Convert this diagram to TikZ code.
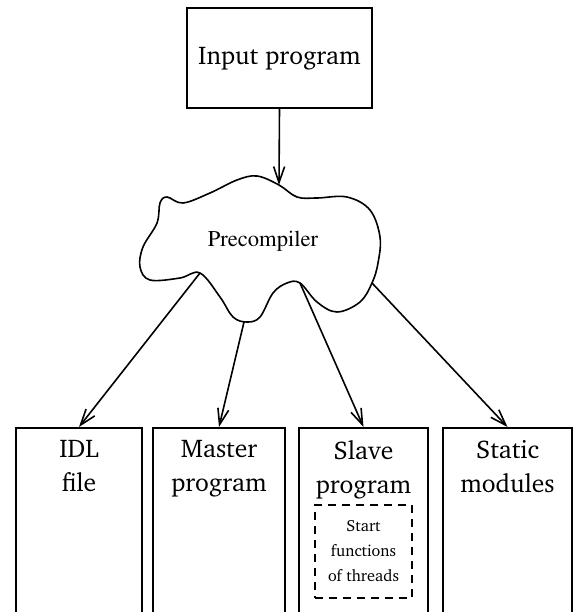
\documentclass[tikz,border=0pt]{standalone}
\usepackage[T1]{fontenc}
\usepackage{charter}
\usetikzlibrary{arrows.meta,
positioning}

\newcommand*{\timesfont}{\fontfamily{ptm}\selectfont}

\begin{document}
\begin{tikzpicture} [x=0.5pt,
    y=-0.5pt,
    >={Straight Barb[length=8pt,width=5.5pt]},
    line width=0.8pt,
    every node/.style={font=\fontsize{12.8}{17}\selectfont},
    main node/.style={rectangle, draw, align=center},
    out node/.style={main node, anchor=north, minimum width=#1, minimum height=96pt}]

  \clip [use as bounding box] (0,0) rectangle (573,612);

  \node [main node,
    minimum width = 92.5pt,
    minimum height = 50pt
  ] (input) at (279.5,58) {Input program};

  % the cloud
  \node [font=\timesfont\fontsize{11.3}{13}\selectfont] (precomp) at (263,241) {Precompiler};

  \draw plot [smooth cycle, tension=.6] coordinates {
      (279,185) (297,197) (317,198) (347,197) (370,210) (380,237)
      (378,263) (372,283) (360,302) (337,312) (317,302) (300,283)
      (287,283) (273,293) (260,317) (247,322) (233,317) (220,297)
      (200,273) (180,278) (150,280) (140,267) (143,247) (157,223)
      (160,203) (167,197) (183,203) (210,193) (237,180) (257,176)};

  \coordinate (pc top) at (279,185);
  \coordinate (pc idl) at (200,273);
  \coordinate (pc master) at (244,322);
  \coordinate (pc slave) at (300,283);
  \coordinate (pc static) at (372,283);

  \draw [->] (input.south) -- (pc top);

  % output boxes
  \node [out node=63pt] (idl) at (79,427) {};
  \node [out node=66pt] (master) at (219,427) {};
  \node [out node=64.5pt] (slave) at (363.5,427) {};
  \node [out node=64.5pt] (static) at (507.5,427) {};

  \node [below = 3pt of idl.north, align=center] (idl text) {IDL\\file};
  \node [below = 3pt of master.north, align=center] (master text) {Master\\program};
  \node [below = 3pt of slave.north, align=center] (slave text) {Slave\\program};
  \node [below = 3pt of static.north, align=center] (static text) {Static\\modules};

  \node [main node,
    dash pattern = on 4pt off 3pt,
    minimum width = 48.5pt,
    minimum height = 46.5pt,
    font = \fontsize{8.1}{12.5}\selectfont
  ] (start) at (363.5,551.5) {Start\\functions\\of threads};

  \draw [->] (pc idl) -- (idl.north);
  \draw [->] (pc master) -- (master.north);
  \draw [->] (pc slave) -- (slave.north);
  \draw [->] (pc static) -- (static.north);

\end{tikzpicture}
\end{document}
